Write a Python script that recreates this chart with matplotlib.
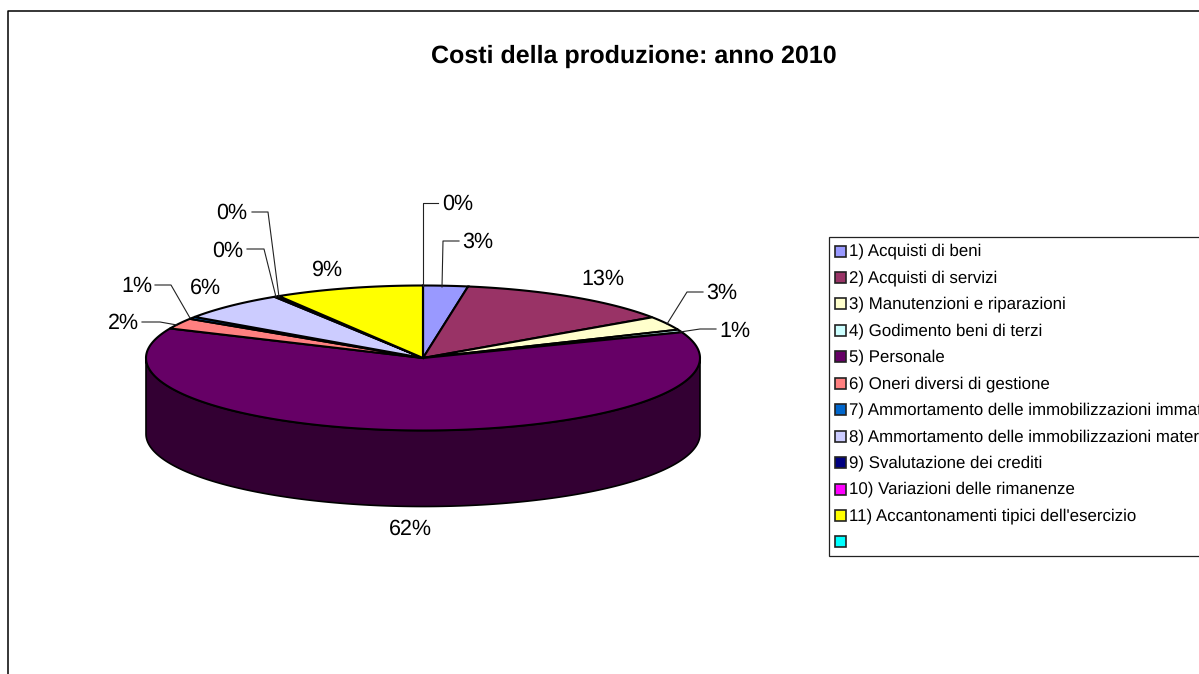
import numpy as np
import matplotlib
matplotlib.use("Agg")
import matplotlib.pyplot as plt
from matplotlib.patches import Polygon, Rectangle

plt.rcParams['font.family'] = ['Liberation Sans', 'DejaVu Sans']
plt.rcParams['text.hinting'] = 'no_hinting'

# data
categories = ["1) Acquisti di beni", "2) Acquisti di servizi", "3) Manutenzioni e riparazioni",
              "4) Godimento beni di terzi", "5) Personale", "6) Oneri diversi di gestione",
              "7) Ammortamento delle immobilizzazioni immateriali",
              "8) Ammortamento delle immobilizzazioni materiali",
              "9) Svalutazione dei crediti", "10) Variazioni delle rimanenze",
              "11) Accantonamenti tipici dell'esercizio", ""]
values = [2.6, 12.9, 3.1, 0.6, 62.4, 2.4, 0.5, 6.4, 0.2, 0.1, 8.7, 0.0]
colors = ["#9999FF", "#993366", "#FFFFCC", "#CCFFFF", "#660066", "#FF8080",
          "#0066CC", "#CCCCFF", "#000080", "#FF00FF", "#FFFF00", "#00FFFF"]
side_colors = ["#4C4C80", "#4C1933", "#808066", "#668080", "#330033", "#804040",
               "#003366", "#666680", "#000040", "#800080", "#808000", "#008080"]
title = "Costi della produzione: anno 2010"

# label text, label centre, leader line (None when the label has no leader)
pct_labels = ["3%", "13%", "3%", "1%", "62%", "2%", "1%", "6%", "0%", "0%", "9%", "0%"]
label_pos = [(478, 242), (603, 279), (722, 293), (735, 331), (410, 529), (123, 323),
             (137, 286), (205, 288), (228, 251), (232, 213), (328, 270), (458, 204)]
leaders = [[(442, 287), (443, 241), (459, 241)], None,
           [(667, 324), (687, 292), (703, 292)],
           [(680, 332), (700, 329), (716, 329)], None,
           [(177, 325), (160, 322), (142, 322)],
           [(190, 318), (171, 285), (155, 285)], None,
           [(276, 297), (264, 249), (247, 249)],
           [(279, 297), (268, 212), (252, 212)], None,
           [(423, 286), (423, 203), (438, 203)]]

# pie geometry in pixels
cx, cy = 423, 358
rx, ry = 277, 72.5
depth = 76


def rim(t):
    t = np.radians(t)
    return cx + rx * np.sin(t), cy - ry * np.cos(t)


fig = plt.figure(figsize=(11.99, 6.74), dpi=100)
ax = fig.add_axes([0, 0, 1, 1])
ax.set_xlim(0, 1199)
ax.set_ylim(674, 0)
ax.axis('off')

# chart frame runs off the right and bottom edges
ax.plot([8, 8, 1250], [700, 10.5, 10.5], color='black', lw=1.1)

ax.text(633.5, 56, title, ha='center', va='center', fontsize=18, fontweight='bold')

# wedge angles, clockwise from 12 o'clock
edges = np.concatenate([[0], np.cumsum(values)]) / sum(values) * 360

# side wall, only the front half of the rim shows
for i in range(len(values)):
    a, b = max(edges[i], 90), min(edges[i + 1], 270)
    if b <= a:
        continue
    t = np.linspace(a, b, 200)
    x, y = rim(t)
    pts = np.column_stack([np.r_[x, x[::-1]], np.r_[y, y[::-1] + depth]])
    ax.add_patch(Polygon(pts, closed=True, facecolor=side_colors[i], edgecolor='black', lw=1.2, zorder=2))

# top face
for i in range(len(values)):
    t = np.linspace(edges[i], edges[i + 1], 200)
    x, y = rim(t)
    pts = np.column_stack([np.r_[cx, x], np.r_[cy, y]])
    ax.add_patch(Polygon(pts, closed=True, facecolor=colors[i], edgecolor='black', lw=1.5,
                         joinstyle='miter', zorder=3))

for text, pos, line in zip(pct_labels, label_pos, leaders):
    ax.text(pos[0], pos[1], text, ha='center', va='center', fontsize=15.5, color='black', zorder=5)
    if line is not None:
        xs, ys = zip(*line)
        ax.plot(xs, ys, color='#222222', lw=0.8, zorder=4)

# legend box, clipped by the right edge of the image like the original
ax.add_patch(Rectangle((829, 237), 500, 319, facecolor='white', edgecolor='#222222', lw=0.9, zorder=2))
for i, name in enumerate(categories):
    y = 251 + i * 26.45
    ax.add_patch(Rectangle((835, y - 5.5), 11, 11, facecolor=colors[i], edgecolor='#222222', lw=1.2, zorder=3))
    ax.text(849, y + 0.5, name, ha='left', va='center', fontsize=12.2, color='black', zorder=3)

fig.savefig('out.png', dpi=100)
